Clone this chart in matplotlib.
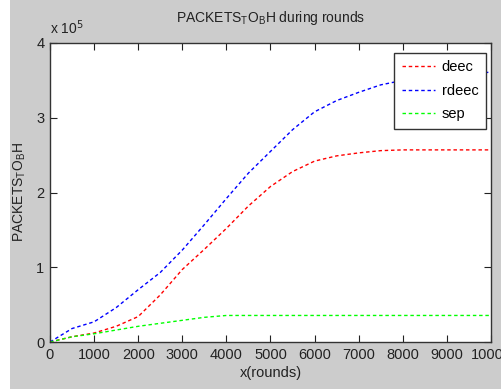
import matplotlib
matplotlib.use("Agg")
import matplotlib.pyplot as plt
import matplotlib.patches as mpatches
from matplotlib.ticker import FuncFormatter

# rounds
x = [0, 500, 1000, 1500, 2000, 2500, 3000, 3500, 4000, 4500, 5000, 5500, 6000, 6500,
     7000, 7500, 8000, 9000, 10000]
# packets to BS (x 10^5)
deec = [0, 0.07, 0.12, 0.21, 0.34, 0.63, 0.97, 1.24, 1.52, 1.82, 2.08, 2.28, 2.42, 2.49,
        2.53, 2.56, 2.57, 2.57, 2.57]
rdeec = [0, 0.18, 0.27, 0.46, 0.70, 0.93, 1.23, 1.57, 1.92, 2.26, 2.55, 2.84, 3.08, 3.23,
         3.34, 3.44, 3.50, 3.57, 3.61]
sep = [0, 0.07, 0.11, 0.16, 0.21, 0.25, 0.29, 0.33, 0.355, 0.355, 0.355, 0.355, 0.355, 0.355,
       0.355, 0.355, 0.355, 0.355, 0.355]
scale = 1e5

plt.rcParams['font.family'] = 'Liberation Sans'

fig = plt.figure(figsize=(5.02, 3.89), dpi=100)
fig.patch.set_facecolor('#cccccc')
# white strip on the left edge
fig.patches.append(mpatches.Rectangle((0, 0), 10/502., 1, transform=fig.transFigure,
                                      facecolor='white', edgecolor='none'))

ax = fig.add_axes([50/502., 1-342/389., 441/502., 299/389.])
ax.set_facecolor('white')

dash = (0, (2.5, 2))
ax.plot(x, [v*scale for v in deec], color='#ff0000', linestyle=dash, linewidth=1, label='deec')
ax.plot(x, [v*scale for v in rdeec], color='#0000ff', linestyle=dash, linewidth=1, label='rdeec')
ax.plot(x, [v*scale for v in sep], color='#00ff00', linestyle=dash, linewidth=1, label='sep')

ax.set_xlim(0, 10000)
ax.set_ylim(0, 4e5)
ax.set_xticks(range(0, 10001, 1000))
ax.set_yticks([0, 1e5, 2e5, 3e5, 4e5])
ax.yaxis.set_major_formatter(FuncFormatter(lambda v, p: '%d' % round(v/scale)))
ax.tick_params(direction='in', length=5, top=True, right=True, labelsize=10.5,
               colors='#222222', pad=4)
for s in ax.spines.values():
    s.set_color('#333333')
    s.set_linewidth(1)

ax.text(0, 1.02, r'x 10$^5$', transform=ax.transAxes, fontsize=10, color='#222222',
        ha='left', va='bottom')
ax.set_title(r'PACKETS$_\mathregular{T}$O$_\mathregular{B}$H during rounds', fontsize=10,
             color='#222222', pad=15)
ax.set_ylabel(r'PACKETS$_\mathregular{T}$O$_\mathregular{B}$H', fontsize=10, color='#222222',
              labelpad=6)
ax.set_xlabel('x(rounds)', fontsize=10.5, color='#222222', labelpad=3)

leg = ax.legend(loc='upper right', bbox_to_anchor=(0.988, 0.9666), borderaxespad=0,
                fontsize=10.5, handlelength=2.3, handletextpad=0.45, labelspacing=0.65,
                borderpad=0.5, fancybox=False, framealpha=1, edgecolor='#333333')
leg.get_frame().set_linewidth(1)

fig.savefig('out.png', dpi=100, facecolor=fig.get_facecolor())
